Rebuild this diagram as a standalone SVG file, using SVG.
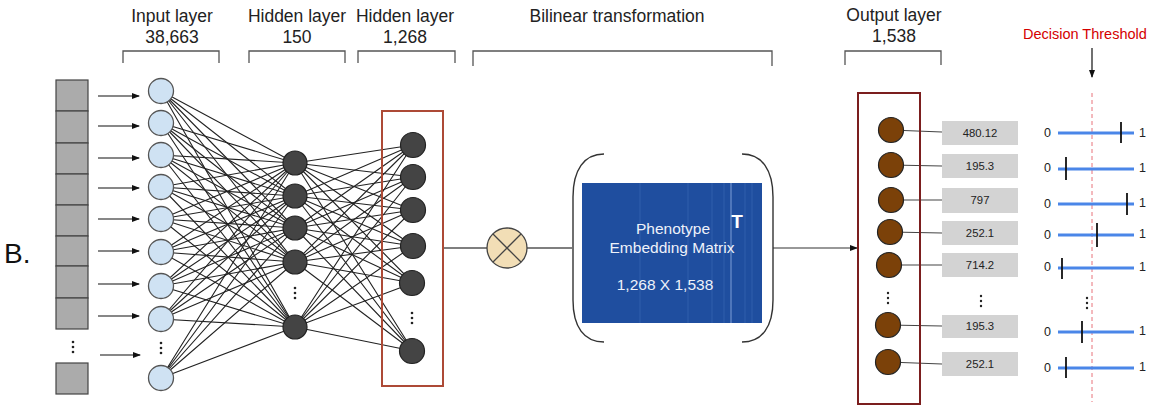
<svg xmlns="http://www.w3.org/2000/svg" width="1153" height="406" viewBox="0 0 1153 406">
<defs>
<marker id="ah" markerWidth="8" markerHeight="6" refX="7" refY="3" orient="auto" markerUnits="userSpaceOnUse">
<path d="M0,0 L8,3 L0,6 Z" fill="#111"/>
</marker>
<style>
.hdr{font-family:"Liberation Sans",Arial,sans-serif;font-size:17.5px;fill:#222;text-anchor:middle}
.brk{fill:none;stroke:#555;stroke-width:1.3}
.cell{fill:#ababab;stroke:#444;stroke-width:1.2}
.arr{stroke:#111;stroke-width:1.2;marker-end:url(#ah)}
.inp{fill:#cfe2f3;stroke:#555;stroke-width:1.3}
.hid{fill:#444;stroke:#222;stroke-width:1.2}
.out{fill:#7b4109;stroke:#222;stroke-width:1.2}
.edge{stroke:#222;stroke-width:1.1;fill:none}
.dot{fill:#222}
.vbox{fill:#d3d3d3}
.vtxt{font-family:"Liberation Sans",Arial,sans-serif;font-size:11.3px;fill:#222;text-anchor:middle}
.stxt{font-family:"Liberation Sans",Arial,sans-serif;font-size:12.5px;fill:#222}
.sl{stroke:#4a86e8;stroke-width:3}
.tk{stroke:#111;stroke-width:1.8}
.mtx{font-family:"Liberation Sans",Arial,sans-serif;font-size:15.5px;fill:#eef2fa;text-anchor:middle}
</style>
</defs>
<rect width="1153" height="406" fill="#fff"/>

<g id="headers">
<text class="hdr" x="172" y="22">Input layer</text>
<text class="hdr" x="172" y="43">38,663</text>
<path class="brk" d="M123,63 V51 H219 V63"/>
<text class="hdr" x="297" y="22">Hidden layer</text>
<text class="hdr" x="297" y="43">150</text>
<path class="brk" d="M249,63 V51 H345 V63"/>
<text class="hdr" x="405" y="22">Hidden layer</text>
<text class="hdr" x="405" y="43">1,268</text>
<path class="brk" d="M358,63 V51 H455 V63"/>
<text class="hdr" x="617" y="22">Bilinear transformation</text>
<path class="brk" d="M473,66 V51 H772 V66"/>
<text class="hdr" x="894" y="21">Output layer</text>
<text class="hdr" x="894" y="42">1,538</text>
<path class="brk" d="M845,65 V51 H941 V65"/>
</g>

<text id="label-b" x="4" y="263" font-family="Liberation Sans,Arial,sans-serif" font-size="28" fill="#111">B.</text>

<g id="input-vector">
<rect class="cell" x="56" y="80" width="32" height="31"/>
<rect class="cell" x="56" y="111" width="32" height="32"/>
<rect class="cell" x="56" y="143" width="32" height="31"/>
<rect class="cell" x="56" y="174" width="32" height="31"/>
<rect class="cell" x="56" y="205" width="32" height="31"/>
<rect class="cell" x="56" y="236" width="32" height="30"/>
<rect class="cell" x="56" y="266" width="32" height="32"/>
<rect class="cell" x="56" y="298" width="32" height="31"/>
<circle class="dot" cx="73" cy="342" r="1.3"/><circle class="dot" cx="73" cy="347" r="1.3"/><circle class="dot" cx="73" cy="352" r="1.3"/>
<rect class="cell" x="56" y="363" width="32" height="31"/>
</g>

<g id="connectors">
<line class="arr" x1="98" y1="96" x2="139" y2="96"/>
<line class="arr" x1="98" y1="126" x2="139" y2="126"/>
<line class="arr" x1="98" y1="158" x2="139" y2="158"/>
<line class="arr" x1="98" y1="188" x2="139" y2="188"/>
<line class="arr" x1="98" y1="219" x2="139" y2="219"/>
<line class="arr" x1="98" y1="251" x2="139" y2="251"/>
<line class="arr" x1="98" y1="284" x2="139" y2="284"/>
<line class="arr" x1="98" y1="316" x2="139" y2="316"/>
<line class="arr" x1="100" y1="355" x2="140" y2="355"/>
<g class="edge">
<path d="M161,91 L295,163 M161,91 L295,196 M161,91 L295,228 M161,91 L295,262 M161,91 L295,327"/>
<path d="M161,123 L295,163 M161,123 L295,196 M161,123 L295,228 M161,123 L295,262 M161,123 L295,327"/>
<path d="M161,155 L295,163 M161,155 L295,196 M161,155 L295,228 M161,155 L295,262 M161,155 L295,327"/>
<path d="M161,187 L295,163 M161,187 L295,196 M161,187 L295,228 M161,187 L295,262 M161,187 L295,327"/>
<path d="M161,219 L295,163 M161,219 L295,196 M161,219 L295,228 M161,219 L295,262 M161,219 L295,327"/>
<path d="M161,252 L295,163 M161,252 L295,196 M161,252 L295,228 M161,252 L295,262 M161,252 L295,327"/>
<path d="M161,286 L295,163 M161,286 L295,196 M161,286 L295,228 M161,286 L295,262 M161,286 L295,327"/>
<path d="M161,319 L295,163 M161,319 L295,196 M161,319 L295,228 M161,319 L295,262 M161,319 L295,327"/>
<path d="M161,378 L295,163 M161,378 L295,196 M161,378 L295,228 M161,378 L295,262 M161,378 L295,327"/>
</g>
<g class="edge">
<path d="M295,163 L413,145 M295,163 L413,177 M295,163 L413,210 M295,163 L413,246 M295,163 L413,283 M295,163 L413,351"/>
<path d="M295,196 L413,145 M295,196 L413,177 M295,196 L413,210 M295,196 L413,246 M295,196 L413,283 M295,196 L413,351"/>
<path d="M295,228 L413,145 M295,228 L413,177 M295,228 L413,210 M295,228 L413,246 M295,228 L413,283 M295,228 L413,351"/>
<path d="M295,262 L413,145 M295,262 L413,177 M295,262 L413,210 M295,262 L413,246 M295,262 L413,283 M295,262 L413,351"/>
<path d="M295,327 L413,145 M295,327 L413,177 M295,327 L413,210 M295,327 L413,246 M295,327 L413,283 M295,327 L413,351"/>
</g>
<line x1="443" y1="248" x2="487" y2="248" stroke="#555" stroke-width="1.3"/>
<line x1="527" y1="248" x2="572" y2="248" stroke="#555" stroke-width="1.3"/>
<line x1="773" y1="248" x2="857" y2="248" stroke="#333" stroke-width="1.2" marker-end="url(#ah)"/>
<g stroke="#444" stroke-width="1.2">
<line x1="891" y1="130" x2="942" y2="132"/>
<line x1="891" y1="165" x2="942" y2="166"/>
<line x1="891" y1="200" x2="942" y2="200"/>
<line x1="891" y1="232" x2="942" y2="233"/>
<line x1="891" y1="265" x2="942" y2="265"/>
<line x1="888" y1="325" x2="942" y2="326"/>
<line x1="888" y1="362" x2="942" y2="364"/>
</g>
</g>

<g id="input-layer">
<circle class="inp" cx="161" cy="91" r="12.5"/>
<circle class="inp" cx="161" cy="123" r="12.5"/>
<circle class="inp" cx="161" cy="155" r="12.5"/>
<circle class="inp" cx="161" cy="187" r="12.5"/>
<circle class="inp" cx="161" cy="219" r="12.5"/>
<circle class="inp" cx="161" cy="252" r="12.5"/>
<circle class="inp" cx="161" cy="286" r="12.5"/>
<circle class="inp" cx="161" cy="319" r="12.5"/>
<circle class="dot" cx="161" cy="343" r="1.3"/><circle class="dot" cx="161" cy="348" r="1.3"/><circle class="dot" cx="161" cy="353" r="1.3"/>
<circle class="inp" cx="161" cy="378" r="12.5"/>
</g>

<g id="hidden-layer-1">
<circle class="hid" cx="295" cy="163" r="12"/>
<circle class="hid" cx="295" cy="196" r="12"/>
<circle class="hid" cx="295" cy="228" r="12"/>
<circle class="hid" cx="295" cy="262" r="12"/>
<circle class="dot" cx="295" cy="288" r="1.3"/><circle class="dot" cx="295" cy="293" r="1.3"/><circle class="dot" cx="295" cy="298" r="1.3"/>
<circle class="hid" cx="295" cy="327" r="12"/>
</g>

<g id="hidden-layer-2">
<rect x="382" y="111" width="61" height="275" fill="none" stroke="#ad4a36" stroke-width="2"/>
<circle class="hid" cx="413" cy="145" r="12.5"/>
<circle class="hid" cx="413" cy="177" r="12.5"/>
<circle class="hid" cx="413" cy="210" r="12.5"/>
<circle class="hid" cx="413" cy="246" r="12.5"/>
<circle class="hid" cx="412" cy="283" r="12.5"/>
<circle class="dot" cx="412" cy="313" r="1.3"/><circle class="dot" cx="412" cy="318" r="1.3"/><circle class="dot" cx="412" cy="323" r="1.3"/>
<circle class="hid" cx="412" cy="351" r="12.5"/>
</g>

<g id="bilinear-op">
<circle cx="507" cy="248" r="20" fill="#f2deb6" stroke="#444" stroke-width="1.3"/>
<path d="M493,234 L521,262 M521,234 L493,262" stroke="#444" stroke-width="1.3"/>
</g>

<g id="embedding-matrix">
<path d="M604,154 C584,154 573,170 573,197 L573,300 C573,327 584,342 604,342" fill="none" stroke="#333" stroke-width="1.4"/>
<path d="M742,154 C762,154 773,170 773,197 L773,300 C773,327 762,342 742,342" fill="none" stroke="#333" stroke-width="1.4"/>
<rect x="582" y="183" width="180" height="140" fill="#1f4e9f"/>
<g stroke="#3563b0" stroke-width="1" opacity="0.8">
<line x1="640" y1="183" x2="640" y2="323"/>
<line x1="688" y1="183" x2="688" y2="323"/>
<line x1="712" y1="183" x2="712" y2="323"/>
<line x1="724" y1="183" x2="724" y2="323"/>
<line x1="745" y1="183" x2="745" y2="323"/>
<line x1="752" y1="183" x2="752" y2="323"/>
</g>
<line x1="731" y1="183" x2="731" y2="323" stroke="#6f92cf" stroke-width="1.2"/>
<text class="mtx" x="673" y="234">Phenotype</text>
<text class="mtx" x="672" y="253">Embedding Matrix</text>
<text class="mtx" x="665" y="290">1,268 X 1,538</text>
<text x="737" y="228" font-family="Liberation Sans,Arial,sans-serif" font-size="19" font-weight="bold" fill="#fff" text-anchor="middle">T</text>
</g>

<g id="output-layer">
<rect x="858" y="93" width="62" height="311" fill="none" stroke="#7b1e1e" stroke-width="2"/>
<circle class="out" cx="891" cy="130" r="12.5"/>
<circle class="out" cx="891" cy="165" r="12.5"/>
<circle class="out" cx="891" cy="200" r="12.5"/>
<circle class="out" cx="890" cy="232" r="12.5"/>
<circle class="out" cx="889" cy="265" r="12.5"/>
<circle class="dot" cx="888" cy="293" r="1.2"/><circle class="dot" cx="888" cy="298" r="1.2"/><circle class="dot" cx="888" cy="303" r="1.2"/>
<circle class="out" cx="888" cy="325" r="12.5"/>
<circle class="out" cx="888" cy="362" r="12.5"/>
</g>

<g id="output-values">
<rect class="vbox" x="942" y="121" width="76" height="24"/><text class="vtxt" x="980" y="137">480.12</text>
<rect class="vbox" x="942" y="154" width="76" height="24"/><text class="vtxt" x="980" y="170">195.3</text>
<rect class="vbox" x="942" y="188" width="76" height="25"/><text class="vtxt" x="980" y="204">797</text>
<rect class="vbox" x="942" y="221" width="76" height="24"/><text class="vtxt" x="980" y="237">252.1</text>
<rect class="vbox" x="942" y="253" width="76" height="24"/><text class="vtxt" x="980" y="269">714.2</text>
<circle class="dot" cx="981" cy="296" r="1.2"/><circle class="dot" cx="981" cy="301" r="1.2"/><circle class="dot" cx="981" cy="306" r="1.2"/>
<rect class="vbox" x="942" y="315" width="76" height="23"/><text class="vtxt" x="980" y="330">195.3</text>
<rect class="vbox" x="942" y="352" width="76" height="24"/><text class="vtxt" x="980" y="368">252.1</text>
</g>

<g id="decision-threshold">
<text x="1023" y="39" font-family="Liberation Sans,Arial,sans-serif" font-size="14.5" fill="#d40000">Decision Threshold</text>
<line x1="1092" y1="48" x2="1092" y2="77" stroke="#111" stroke-width="1.2" marker-end="url(#ah)"/>
<line x1="1092" y1="93" x2="1092" y2="402" stroke="#e8737a" stroke-width="1" stroke-dasharray="4,3"/>
</g>

<g id="sliders">
<text class="stxt" x="1044" y="137">0</text><line class="sl" x1="1058" y1="133" x2="1134" y2="133"/><text class="stxt" x="1139" y="137">1</text><line class="tk" x1="1121" y1="122" x2="1121" y2="143"/>
<text class="stxt" x="1044" y="172">0</text><line class="sl" x1="1058" y1="169" x2="1134" y2="169"/><text class="stxt" x="1139" y="172">1</text><line class="tk" x1="1066" y1="157" x2="1066" y2="180"/>
<text class="stxt" x="1044" y="208">0</text><line class="sl" x1="1058" y1="204" x2="1134" y2="204"/><text class="stxt" x="1139" y="207">1</text><line class="tk" x1="1127" y1="193" x2="1127" y2="215"/>
<text class="stxt" x="1044" y="239">0</text><line class="sl" x1="1058" y1="235" x2="1134" y2="235"/><text class="stxt" x="1139" y="238">1</text><line class="tk" x1="1097" y1="223" x2="1097" y2="247"/>
<text class="stxt" x="1044" y="271">0</text><line class="sl" x1="1058" y1="268" x2="1134" y2="268"/><text class="stxt" x="1139" y="271">1</text><line class="tk" x1="1062" y1="258" x2="1062" y2="279"/>
<circle class="dot" cx="1087" cy="298" r="1.2"/><circle class="dot" cx="1087" cy="303" r="1.2"/><circle class="dot" cx="1087" cy="308" r="1.2"/>
<text class="stxt" x="1044" y="336">0</text><line class="sl" x1="1058" y1="332" x2="1134" y2="332"/><text class="stxt" x="1139" y="335">1</text><line class="tk" x1="1082" y1="321" x2="1082" y2="343"/>
<text class="stxt" x="1044" y="372">0</text><line class="sl" x1="1058" y1="368" x2="1134" y2="368"/><text class="stxt" x="1139" y="371">1</text><line class="tk" x1="1066" y1="357" x2="1066" y2="378"/>
</g>
</svg>
